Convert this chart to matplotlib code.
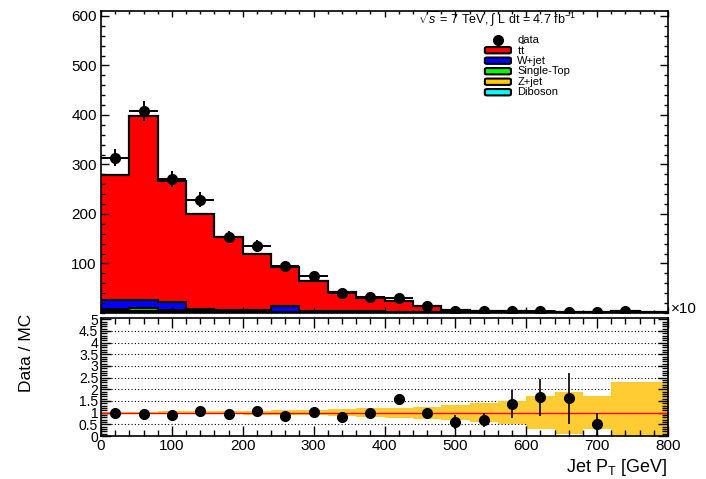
import numpy as np
import matplotlib
matplotlib.use("Agg")
import matplotlib.pyplot as plt
from matplotlib.ticker import MultipleLocator, FormatStrFormatter
from matplotlib.patches import FancyBboxPatch

plt.rcParams['font.family'] = ['Liberation Sans', 'DejaVu Sans']
plt.rcParams['mathtext.fontset'] = 'custom'
plt.rcParams['mathtext.rm'] = 'Liberation Sans'
plt.rcParams['mathtext.it'] = 'Liberation Sans:italic'

# jet pT bins, 40 GeV wide
edges = np.arange(0, 801, 40)
centers = edges[:-1] + 20

# MC stack components (events / bin)
diboson = [1.0, 1.2, 1.0, 0.6, 0.5, 0.4, 0.4, 0.3, 0.2, 0.2, 0.1, 0.1, 0.1, 0, 0, 0, 0, 0, 0, 0]
zjet = [2.5, 2.5, 2.0, 1.2, 1.0, 0.8, 0.6, 0.5, 0.4, 0.3, 0.2, 0.2, 0.1, 0.1, 0, 0, 0, 0, 0, 0]
singletop = [4.0, 5.5, 3.5, 2.5, 2.0, 1.5, 1.2, 1.0, 0.8, 0.6, 0.4, 0.3, 0.2, 0.1, 0.1, 0.1, 0, 0, 0, 0]
wjet = [18.5, 16.8, 16.5, 4.7, 2.5, 3.3, 11.0, 3.0, 2.5, 2.0, 1.5, 1.0, 0.8, 0.5, 0.5, 0.3, 0.3, 0.2, 0.2, 0.1]
ttbar = [253, 371, 243, 191, 147, 114, 80, 59, 38, 27, 23, 13, 4.5, 2.5, 2.5, 2.0, 2.0, 1.5, 4.0, 1.5]

# data
data = [314, 408, 271, 229, 153, 135, 94, 75, 40, 33, 31, 14, 4, 4, 4, 4, 2, 2, 5]
data_err = [18, 20, 16, 15, 12, 12, 10, 9, 6, 6, 6, 4, 2, 2, 2, 2, 1.4, 1.4, 2.2]

# data / MC ratio
ratio = [1.0, 0.95, 0.92, 1.06, 0.96, 1.06, 0.87, 1.01, 0.83, 0.99,
         1.6, 1.0, 0.61, 0.69, 1.39, 1.66, 1.61, 0.51]
ratio_err = [0.06, 0.05, 0.06, 0.07, 0.08, 0.09, 0.1, 0.12, 0.15, 0.17,
             0.2, 0.2, 0.3, 0.3, 0.6, 0.8, 1.1, 0.49]
# MC uncertainty band (relative)
band_err = [0.04, 0.04, 0.05, 0.06, 0.07, 0.08, 0.1, 0.12, 0.15, 0.18,
            0.21, 0.26, 0.33, 0.42, 0.5, 0.7, 0.9, 0.7, 1.3, 1.3]

layers = [
    ("Diboson", diboson, "#00ffff"),
    ("Z+jet", zjet, "#ffcc00"),
    ("Single-Top", singletop, "#00ff00"),
    ("W+jet", wjet, "#0000ff"),
    (r"$\mathrm{t}\bar{\mathrm{t}}$", ttbar, "#ff0000"),
]

W, H = 706, 479
fig = plt.figure(figsize=(W / 100, H / 100), dpi=100)
ax1 = fig.add_axes([101 / W, 1 - 313 / H, 567 / W, 302 / H])
ax2 = fig.add_axes([101 / W, 1 - 436 / H, 567 / W, 118 / H])

# ---- stacked histogram ----
base = np.zeros(len(edges) - 1)
tops = []
for name, vals, col in layers:
    top = base + np.array(vals, dtype=float)
    ax1.stairs(top, edges, baseline=base, fill=True, color=col, lw=0)
    tops.append(top)
    base = top
for top in tops:
    ax1.stairs(top, edges, baseline=None, color="k", lw=1.6)

nd = len(data)
ax1.errorbar(centers[:nd], data, yerr=data_err, xerr=20, fmt="o", color="k",
             ms=7, elinewidth=1.4, capsize=0, zorder=5)

ax1.set_xlim(0, 800)
ax1.set_ylim(0, 610)
ax1.xaxis.set_major_locator(MultipleLocator(100))
ax1.xaxis.set_minor_locator(MultipleLocator(20))
ax1.yaxis.set_minor_locator(MultipleLocator(20))
ax1.set_yticks([100, 200, 300, 400, 500, 600])
ax1.set_xticklabels([])
ax1.yaxis.set_major_formatter(FormatStrFormatter("%d"))
ax1.tick_params(which="both", direction="in", top=True, right=True, labelsize=11, pad=3)
ax1.tick_params(axis="y", which="major", length=6, width=1)
ax1.tick_params(axis="y", which="minor", length=3, width=1)
ax1.tick_params(axis="x", which="major", length=4, width=1)
ax1.tick_params(axis="x", which="minor", length=2.5, width=1)
for s in ax1.spines.values():
    s.set_linewidth(1.2)

fig.text(671 / W, 1 - 309 / H, "×10", fontsize=11, ha="left", va="center")

# header
ax1.text(0.559, 0.955, r"$\sqrt{s}$ = 7 TeV, $\int$ L dt = 4.7 fb$^{-1}$",
         transform=ax1.transAxes, fontsize=9, ha="left", va="baseline")

# legend
row0, dy = 0.905, 0.0348
bx0, bw, bh = 0.677, 0.046, 0.021
ax1.plot([bx0 + bw / 2], [row0], "o", color="k", ms=7, transform=ax1.transAxes)
ax1.text(bx0 + bw + 0.011, row0, "data", transform=ax1.transAxes, fontsize=8, va="center")
for i, (name, vals, col) in enumerate(reversed(layers)):
    y = row0 - (i + 1) * dy
    box = FancyBboxPatch((bx0, y - bh / 2), bw, bh, boxstyle="round,pad=0,rounding_size=0.004",
                         transform=ax1.transAxes, facecolor=col, edgecolor="k", lw=1.5)
    ax1.add_patch(box)
    ax1.text(bx0 + bw + 0.011, y, name, transform=ax1.transAxes, fontsize=8, va="center")

# ---- ratio panel ----
for g in [0.5, 1.5, 2, 2.5, 3, 3.5, 4, 4.5]:
    ax2.axhline(g, color="k", ls=(0, (1, 2)), lw=0.8, zorder=0)
band = np.array(band_err)
ax2.stairs(1 + band, edges, baseline=np.clip(1 - band, 0, None), fill=True,
           color="#ffcc33", lw=0, zorder=1)
ax2.axhline(1, color="#ff0000", lw=1, zorder=2)
nr = len(ratio)
ax2.errorbar(centers[:nr], ratio, yerr=ratio_err, fmt="o", color="k", ms=7,
             elinewidth=1.2, capsize=0, zorder=3)

ax2.set_xlim(0, 800)
ax2.set_ylim(0, 5.05)
ax2.xaxis.set_major_locator(MultipleLocator(100))
ax2.xaxis.set_minor_locator(MultipleLocator(20))
ax2.yaxis.set_major_locator(MultipleLocator(0.5))
ax2.yaxis.set_minor_locator(MultipleLocator(0.1))
ax2.yaxis.set_major_formatter(FormatStrFormatter("%g"))
ax2.xaxis.set_major_formatter(FormatStrFormatter("%d"))
ax2.tick_params(which="both", direction="in", top=True, right=True, pad=2)
ax2.tick_params(axis="x", labelsize=11)
ax2.tick_params(axis="y", labelsize=10)
ax2.tick_params(which="major", length=7, width=1)
ax2.tick_params(which="minor", length=4, width=1)
for s in ax2.spines.values():
    s.set_linewidth(1.2)

fig.text(27 / W, 1 - 353 / H, "Data / MC", rotation=90, fontsize=12.5, ha="center", va="center")
fig.text(667 / W, 1 - 468 / H, r"Jet P$_{\mathrm{T}}$ [GeV]", fontsize=13, ha="right", va="center")

fig.savefig("out.png", dpi=100)
